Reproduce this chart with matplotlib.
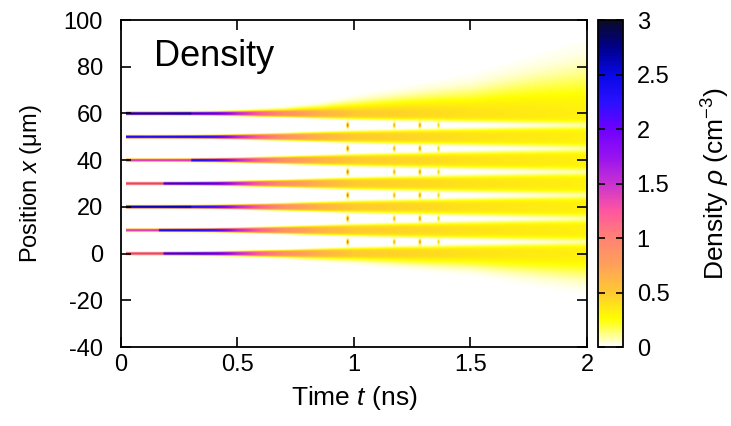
"""Density map of seven expanding foils (position vs time)."""

import numpy as np
import matplotlib.pyplot as plt
from matplotlib.colors import LinearSegmentedColormap

# Foil layout and values
foil_centers = [0, 10, 20, 30, 40, 50, 60]          # um
early_rho = [1.45, 1.45, 2.7, 1.45, 1.45, 2.4, 2.8]  # density of the first segment
early_end = [0.18, 0.16, 0.30, 0.18, 0.30, 0.10, 0.30]  # ns

time_knots = [0.02, 0.15, 0.30, 0.40, 0.50, 0.60, 0.70, 0.85, 1.00, 1.50, 2.00]
peak_rho = [2.3, 2.4, 2.4, 2.2, 1.6, 1.2, 0.9, 0.65, 0.5, 0.38, 0.32]
half_width = [0.8, 0.8, 0.85, 0.95, 1.2, 1.5, 1.8, 2.4, 3.0, 4.3, 5.6]    # interior, um
top_extent = [0.8, 0.8, 0.85, 0.95, 1.3, 1.8, 2.4, 4.0, 6.5, 14.0, 27.0]  # above top foil
bot_extent = [0.8, 0.8, 0.85, 0.95, 1.2, 1.5, 2.0, 3.0, 4.0, 8.0, 15.0]   # below bottom foil

# small bright spots where neighbouring plasmas meet (midway between foils)
collision_t = [0.97, 1.17, 1.28, 1.36]
collision_rho = [1.5, 0.9, 1.1, 0.6]

cbar_ticks = [0, 0.5, 1, 1.5, 2, 2.5, 3]
x_ticks = [0, 0.5, 1, 1.5, 2]
y_ticks = [-40, -20, 0, 20, 40, 60, 80, 100]

palette = [(0.00, '#ffffff'), (0.15, '#ffff60'), (0.25, '#ffff00'),
           (0.50, '#ffc832'), (0.75, '#ffa05a'), (1.00, '#ff8274'),
           (1.25, '#ff55a0'), (1.50, '#c832d2'), (1.75, '#9612f0'),
           (2.00, '#6e00ff'), (2.25, '#2a10ff'), (2.50, '#0808e6'),
           (2.75, '#00008c'), (3.00, '#0a0a28')]


def build_field(t, x):
    """Sum of super-Gaussian foil profiles on a (x, t) grid."""
    T, X = np.meshgrid(t, x)
    rho = np.zeros_like(T)
    peak = np.interp(t, time_knots, peak_rho)
    w = np.interp(t, time_knots, half_width) / 1.3
    s_top = np.interp(t, time_knots, top_extent) / 2.2
    s_bot = np.interp(t, time_knots, bot_extent) / 2.2
    for k, c in enumerate(foil_centers):
        pk = np.where(t < early_end[k], early_rho[k], peak)
        d = X - c
        prof = np.exp(-(np.abs(d) / w) ** 4)
        if c == max(foil_centers):
            prof = np.where(d > 0, np.maximum(prof, np.exp(-0.5 * (d / s_top) ** 2)), prof)
        if c == min(foil_centers):
            prof = np.where(d < 0, np.maximum(prof, np.exp(-0.5 * (d / s_bot) ** 2)), prof)
        rho += pk * prof
    mids = np.array(foil_centers[:-1]) + 5.0
    for tc, rc in zip(collision_t, collision_rho):
        for m in mids:
            rho += rc * np.exp(-0.5 * ((T - tc) / 0.003) ** 2 - 0.5 * ((X - m) / 0.7) ** 2)
    return np.clip(rho, 0, 3)


plt.rcParams['font.family'] = ['Liberation Sans', 'DejaVu Sans']
plt.rcParams['mathtext.fontset'] = 'custom'
plt.rcParams['mathtext.it'] = 'Liberation Sans:italic'
plt.rcParams['mathtext.rm'] = 'Liberation Sans'
plt.rcParams['axes.unicode_minus'] = False

cmap = LinearSegmentedColormap.from_list(
    'dens', [(v / 3.0, c) for v, c in palette])

t = np.linspace(time_knots[0], 2.0, 800)
x = np.linspace(-40, 100, 1400)
rho = build_field(t, x)

fig = plt.figure(figsize=(7.31, 4.26), dpi=100)
ax = fig.add_axes([0.1655, 0.1854, 0.6375, 0.7676])
cax = fig.add_axes([0.818, 0.1854, 0.034, 0.7676])

im = ax.imshow(rho, extent=[t[0], t[-1], x[0], x[-1]], origin='lower',
               aspect='auto', cmap=cmap, vmin=0, vmax=3, interpolation='bilinear')
ax.set_xlim(0, 2)
ax.set_ylim(-40, 100)
ax.set_xticks(x_ticks)
ax.set_xticklabels(['0', '0.5', '1', '1.5', '2'])
ax.set_yticks(y_ticks)
ax.tick_params(direction='in', length=7, width=1.2, labelsize=17,
               top=True, right=True)
ax.tick_params(axis='x', pad=5)
ax.tick_params(axis='y', pad=13)
for sp in ax.spines.values():
    sp.set_linewidth(1.3)
ax.set_xlabel('Time $t$ (ns)', fontsize=19, labelpad=6)
ax.set_ylabel('Position $x$ ($\\mathrm{\\mu}$m)', fontsize=17, labelpad=14)
ax.text(0.07, 0.86, 'Density', transform=ax.transAxes, fontsize=26)

cb = fig.colorbar(im, cax=cax, ticks=cbar_ticks)
cb.ax.set_yticklabels(['0', '0.5', '1', '1.5', '2', '2.5', '3'])
cb.ax.tick_params(direction='in', length=5, width=1.2, labelsize=17,
                  left=True, right=True, pad=10)
cb.outline.set_linewidth(1.3)
cb.set_label('Density $\\rho$ (cm$^{-3}$)', fontsize=19, labelpad=22)

fig.savefig('out.png', dpi=100)
